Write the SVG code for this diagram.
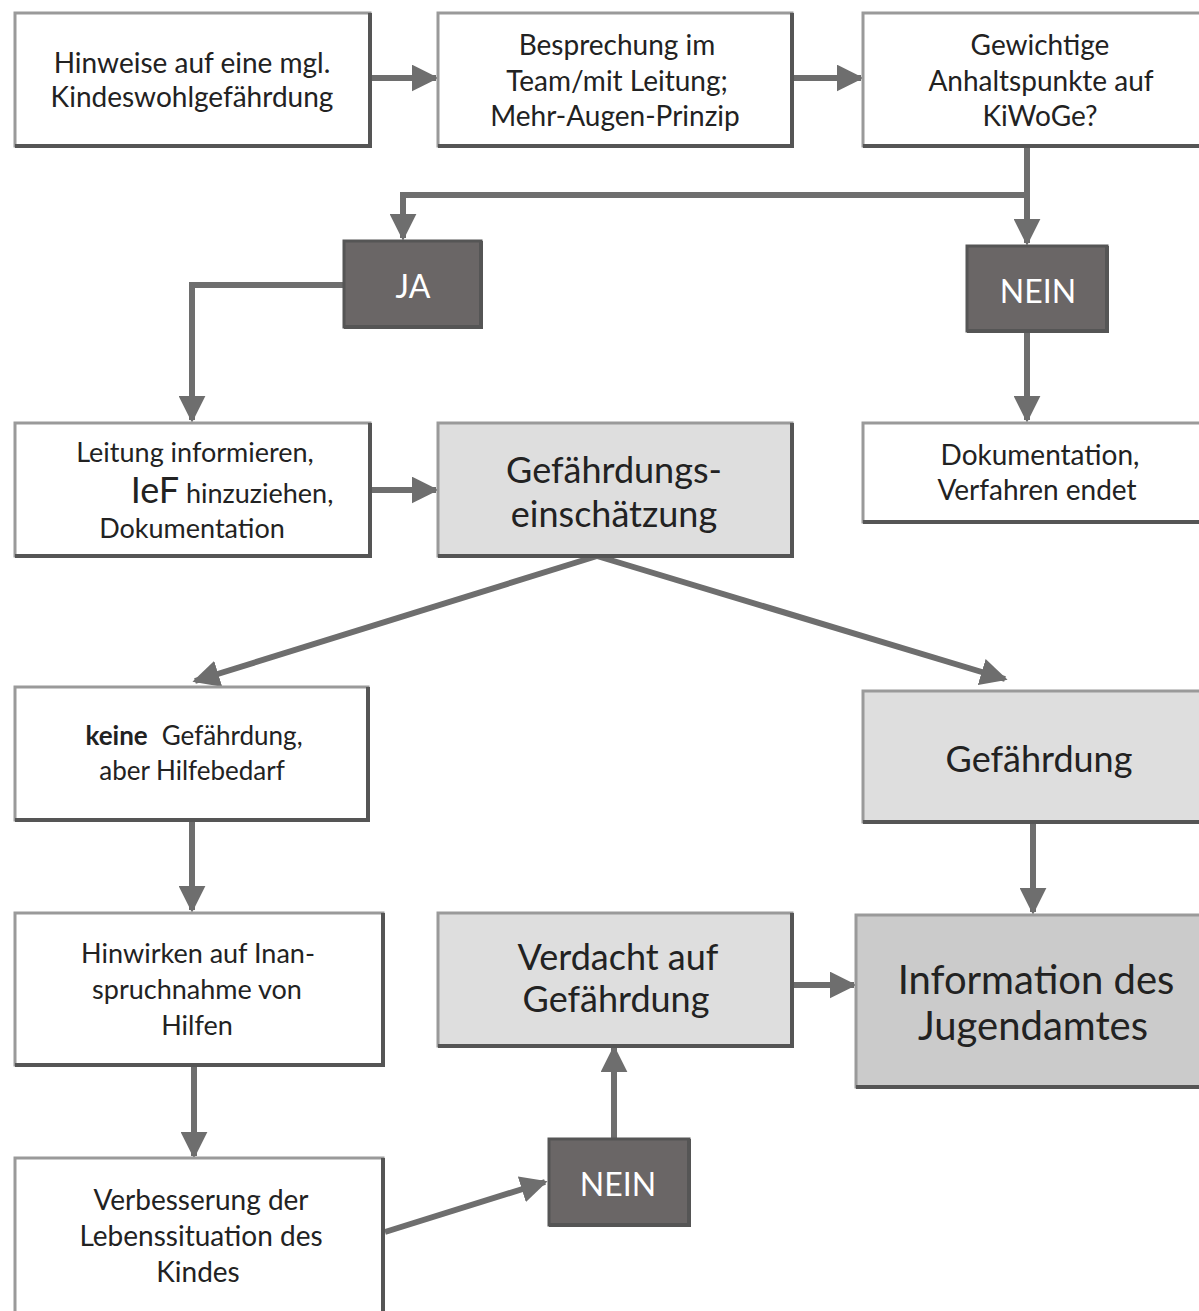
<svg xmlns="http://www.w3.org/2000/svg" width="1199" height="1311" viewBox="0 0 1199 1311">
<defs>
<style>
.box{stroke:#9a9a9a;stroke-width:3}
.w{fill:#ffffff}
.l{fill:#dedede}
.m{fill:#cbcbcb}
.d{fill:#6a6666;stroke:#555}
.sh{fill:none;stroke:#555;stroke-width:4}
.t{font-family:Lato,"Open Sans",sans-serif;fill:#222;text-anchor:middle}
.c{font-family:Lato,sans-serif;fill:#222;text-anchor:middle}
.yn{font-family:Lato,"Liberation Sans",sans-serif;fill:#fff;text-anchor:middle;font-size:32px}
.con{fill:none;stroke:#6e6e6e;stroke-width:6}
</style>
<marker id="ah" viewBox="0 0 10 10" refX="9" refY="5" markerWidth="4.5" markerHeight="4.5" orient="auto" markerUnits="strokeWidth">
<path d="M0,0 L10,5 L0,10 z" fill="#6e6e6e"/>
</marker>
</defs>
<rect width="1199" height="1311" fill="#fff"/>

<g id="connectors">
<line class="con" x1="370" y1="78" x2="436" y2="78" marker-end="url(#ah)"/>
<line class="con" x1="792" y1="78" x2="861" y2="78" marker-end="url(#ah)"/>
<polyline class="con" points="1027,146 1027,195 403,195 403,238" marker-end="url(#ah)"/>
<line class="con" x1="1027" y1="195" x2="1027" y2="243" marker-end="url(#ah)"/>
<polyline class="con" points="343,285 192,285 192,420" marker-end="url(#ah)"/>
<line class="con" x1="1027" y1="331" x2="1027" y2="420" marker-end="url(#ah)"/>
<line class="con" x1="370" y1="490" x2="436" y2="490" marker-end="url(#ah)"/>
<line class="con" x1="597" y1="556" x2="195" y2="681" marker-end="url(#ah)"/>
<line class="con" x1="597" y1="556" x2="1005" y2="679" marker-end="url(#ah)"/>
<line class="con" x1="192" y1="820" x2="192" y2="910" marker-end="url(#ah)"/>
<line class="con" x1="1033" y1="822" x2="1033" y2="912" marker-end="url(#ah)"/>
<line class="con" x1="792" y1="985" x2="854" y2="985" marker-end="url(#ah)"/>
<line class="con" x1="194" y1="1065" x2="194" y2="1156" marker-end="url(#ah)"/>
<line class="con" x1="385" y1="1232" x2="545" y2="1182" marker-end="url(#ah)"/>
<line class="con" x1="614" y1="1138" x2="614" y2="1048" marker-end="url(#ah)"/>
</g>

<g id="n1">
<rect class="box w" x="15" y="13" width="355" height="133"/>
<path class="sh" d="M370,13 V146 H15"/>
<text class="t" font-size="28" x="192" y="73">Hinweise auf eine mgl.</text>
<text class="t" font-size="28" x="192" y="107">Kindeswohlgefährdung</text>
</g>

<g id="n2">
<rect class="box w" x="438" y="13" width="354" height="133"/>
<path class="sh" d="M792,13 V146 H438"/>
<text class="t" font-size="28" x="617" y="55">Besprechung im</text>
<text class="t" font-size="28" x="617" y="91">Team/mit Leitung;</text>
<text class="t" font-size="28" x="615" y="126">Mehr-Augen-Prinzip</text>
</g>

<g id="n3">
<rect class="box w" x="863" y="13" width="345" height="133"/>
<path class="sh" d="M863,146 H1208"/>
<text class="t" font-size="28" x="1040" y="55">Gewichtige</text>
<text class="t" font-size="28" x="1041" y="91">Anhaltspunkte auf</text>
<text class="t" font-size="28" x="1040" y="126">KiWoGe?</text>
</g>

<g id="ja">
<rect class="box d" x="344" y="241" width="137" height="86"/>
<path class="sh" d="M481,241 V327 H344" stroke="#3e3e3e"/>
<text class="yn" x="413" y="298">JA</text>
</g>

<g id="nein1">
<rect class="box d" x="967" y="246" width="140" height="85"/>
<path class="sh" d="M1107,246 V331 H967" stroke="#3e3e3e"/>
<text class="yn" x="1038" y="303">NEIN</text>
</g>

<g id="n4">
<rect class="box w" x="15" y="423" width="355" height="133"/>
<path class="sh" d="M370,423 V556 H15"/>
<text class="c" font-size="27" x="195" y="462">Leitung informieren,</text>
<text class="c" font-size="27" x="232" y="503"><tspan font-size="36">IeF</tspan> hinzuziehen,</text>
<text class="c" font-size="27" x="192" y="538">Dokumentation</text>
</g>

<g id="n5">
<rect class="box l" x="438" y="423" width="354" height="133"/>
<path class="sh" d="M792,423 V556 H438"/>
<text class="c" font-size="36" x="614" y="483">Gefährdungs-</text>
<text class="c" font-size="36" x="614" y="527">einschätzung</text>
</g>

<g id="n6">
<rect class="box w" x="863" y="423" width="345" height="99"/>
<path class="sh" d="M863,522 H1208"/>
<text class="t" font-size="28" x="1040" y="465">Dokumentation,</text>
<text class="t" font-size="28" x="1037" y="500">Verfahren endet</text>
</g>

<g id="n7">
<rect class="box w" x="15" y="687" width="353" height="133"/>
<path class="sh" d="M368,687 V820 H15"/>
<text class="t" font-size="26" x="194" y="745"><tspan font-weight="bold">keine</tspan><tspan dx="14">Gefährdung,</tspan></text>
<text class="t" font-size="26" x="192" y="780">aber Hilfebedarf</text>
</g>

<g id="n8">
<rect class="box l" x="863" y="691" width="345" height="131"/>
<path class="sh" d="M863,822 H1208"/>
<text class="t" font-size="36" x="1039" y="772">Gefährdung</text>
</g>

<g id="n9">
<rect class="box w" x="15" y="913" width="368" height="152"/>
<path class="sh" d="M383,913 V1065 H15"/>
<text class="c" font-size="27" x="198" y="963">Hinwirken auf Inan-</text>
<text class="c" font-size="27" x="197" y="999">spruchnahme von</text>
<text class="c" font-size="27" x="197" y="1035">Hilfen</text>
</g>

<g id="n11">
<rect class="box l" x="438" y="913" width="354" height="133"/>
<path class="sh" d="M792,913 V1046 H438"/>
<text class="c" font-size="36" x="618" y="970">Verdacht auf</text>
<text class="c" font-size="36" x="616" y="1012">Gefährdung</text>
</g>

<g id="n10">
<rect class="box m" x="856" y="915" width="352" height="172"/>
<path class="sh" d="M856,1087 H1208"/>
<text class="t" font-size="40" x="1036" y="994">Information des</text>
<text class="t" font-size="40" x="1033" y="1040">Jugendamtes</text>
</g>

<g id="n12">
<rect class="box w" x="15" y="1158" width="368" height="160"/>
<path class="sh" d="M383,1158 V1318"/>
<text class="c" font-size="28" x="201" y="1210">Verbesserung der</text>
<text class="c" font-size="28" x="201" y="1246">Lebenssituation des</text>
<text class="c" font-size="28" x="198" y="1282">Kindes</text>
</g>

<g id="nein2">
<rect class="box d" x="549" y="1139" width="140" height="86"/>
<path class="sh" d="M689,1139 V1225 H549" stroke="#3e3e3e"/>
<text class="yn" x="618" y="1196">NEIN</text>
</g>
</svg>
